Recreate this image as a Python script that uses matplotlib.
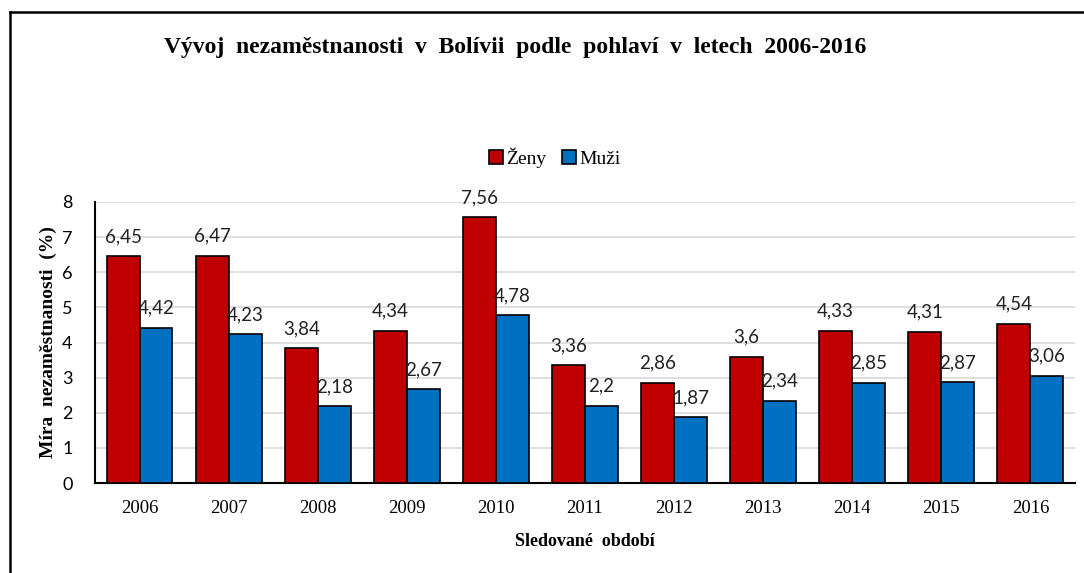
import numpy as np
import matplotlib
matplotlib.use('Agg')
import matplotlib.pyplot as plt
from matplotlib.lines import Line2D

years = ['2006', '2007', '2008', '2009', '2010', '2011', '2012', '2013', '2014', '2015', '2016']
zeny = [6.45, 6.47, 3.84, 4.34, 7.56, 3.36, 2.86, 3.6, 4.33, 4.31, 4.54]
muzi = [4.42, 4.23, 2.18, 2.67, 4.78, 2.2, 1.87, 2.34, 2.85, 2.87, 3.06]

serif = 'Liberation Serif'
sans = 'Lato'

fig = plt.figure(figsize=(10.84, 5.73), dpi=100)
ax = fig.add_axes([0.0876, 0.157, 0.904, 0.4905])

x = np.arange(len(years))
w = 0.37
b1 = ax.bar(x - w / 2, zeny, w, color='#C00000', edgecolor='black', linewidth=1.2, label='Ženy', zorder=3)
b2 = ax.bar(x + w / 2, muzi, w, color='#0070C0', edgecolor='black', linewidth=1.2, label='Muži', zorder=3)

# data labels with decimal comma
for bars, vals in ((b1, zeny), (b2, muzi)):
    for r, v in zip(bars, vals):
        ax.annotate(str(v).replace('.', ','), (r.get_x() + r.get_width() / 2, v),
                    xytext=(0, 8), textcoords='offset points', ha='center', va='bottom',
                    fontsize=13.5, family=sans, color='#222222')

ax.set_xlim(-0.5, len(years) - 0.5)
ax.set_ylim(0, 8)
ax.set_yticks(range(0, 9))
ax.set_xticks(x)
ax.set_xticklabels(years, family=serif, fontsize=13.5)
for t in ax.get_yticklabels():
    t.set_family(sans)
    t.set_fontsize(13)
ax.tick_params(axis='x', length=0, pad=12)
ax.tick_params(axis='y', length=0, pad=16)

ax.grid(axis='y', color='#D9D9D9', linewidth=1.2, zorder=0)
ax.spines['top'].set_visible(False)
ax.spines['right'].set_visible(False)
ax.spines['left'].set_linewidth(1.5)
ax.spines['bottom'].set_linewidth(1.5)

ax.set_xlabel('Sledované  období', family=serif, fontsize=13, fontweight='bold', labelpad=12)
ax.set_ylabel('Míra  nezaměstnanosti  (%)', family=serif, fontsize=14, fontweight='bold', labelpad=4)

fig.text(0.475, 0.917, 'Vývoj  nezaměstnanosti  v  Bolívii  podle  pohlaví  v  letech  2006-2016',
         ha='center', va='center', family=serif, fontsize=17, fontweight='bold')

fig.legend(handles=[b1, b2], loc='center', bbox_to_anchor=(0.512, 0.725), ncol=2, frameon=False,
           prop={'family': serif, 'size': 14}, handlelength=0.7, handleheight=0.7,
           handletextpad=0.2, columnspacing=0.8)

# outer frame (left and top edges visible)
fx = 10 / 1084
fy = 1 - 12 / 573
fig.add_artist(Line2D([fx, fx], [0, fy], transform=fig.transFigure, color='black', linewidth=1.8))
fig.add_artist(Line2D([fx, 1], [fy, fy], transform=fig.transFigure, color='black', linewidth=1.8))

fig.savefig('out.png', dpi=100)
